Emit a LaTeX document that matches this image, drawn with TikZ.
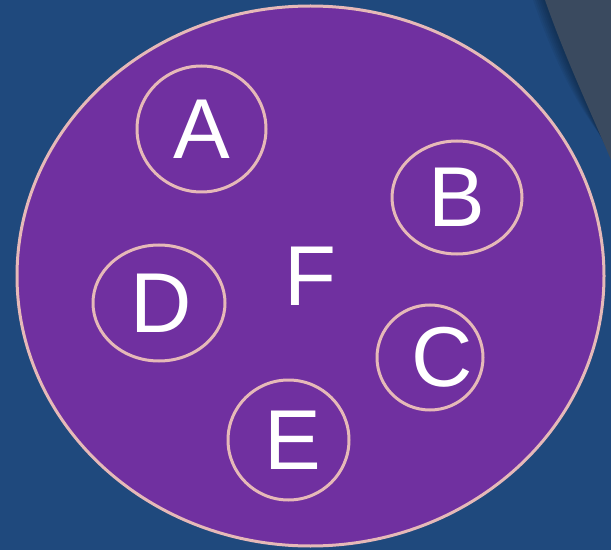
\documentclass[tikz,border=0pt]{standalone}
\usepackage{fontspec}
\setmainfont{Liberation Sans}
\usetikzlibrary{shapes.geometric}
\definecolor{slideblue}{HTML}{1F497D}
\definecolor{cornergray}{HTML}{3A4A5F}
\definecolor{setpurple}{HTML}{7030A0}
\definecolor{setrim}{HTML}{E6B9B8}

\begin{document}
\begin{tikzpicture}[x=1pt, y=1pt,
    settext/.style={text=white, inner sep=0pt, font=\fontsize{85}{85}\selectfont},
    setbox/.style={ellipse, draw=setrim, line width=3pt, settext},
    sub/.style={setbox}]
            \fill[slideblue] (0,0) rectangle (611,550);
            \useasboundingbox (0,0) rectangle (611,550);
            % corner of the slide background
            \foreach \d in {12,10,...,2}
                \fill[black, opacity=0.05] (545-\d,550) .. controls (566-\d,490) and (590-\d,440) .. (611,390+\d) -- (611,550) -- cycle;
            \fill[cornergray] (545,550) .. controls (566,490) and (590,440) .. (611,390) -- (611,550) -- cycle;
            % the sets
            \node[setbox, fill=setpurple, minimum width=587pt, minimum height=540pt] (F) at (310.5,274) {F};
            \node[sub, minimum width=129pt, minimum height=126pt] (A) at (201.5,421) {A};
            \node[sub, minimum width=130pt, minimum height=113pt] (B) at (457,352.5) {B};
            \node[sub, minimum width=106pt, minimum height=105pt,
                label={[settext, xshift=12pt]center:C}] (C) at (430,192.5) {};
            \node[sub, minimum width=132pt, minimum height=116pt,
                label={[settext, xshift=2.5pt]center:D}] (D) at (159,247) {};
            \node[sub, minimum width=121pt, minimum height=120pt,
                label={[settext, xshift=4.5pt]center:E}] (E) at (288.5,110) {};
        \end{tikzpicture}
\end{document}
